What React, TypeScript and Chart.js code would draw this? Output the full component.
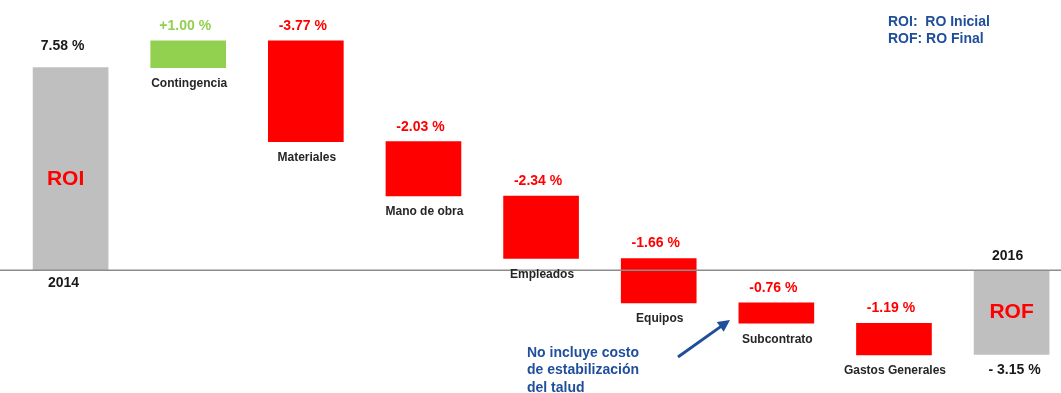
import React, { useEffect, useRef } from "react";
import { Chart, registerables } from "chart.js";

Chart.register(...registerables);

const categories = ["ROI", "Contingencia", "Materiales", "Mano de obra", "Empleados", "Equipos", "Subcontrato", "Gastos Generales", "ROF"];
const changes = [7.58, 1.0, -3.77, -2.03, -2.34, -1.66, -0.76, -1.19, -3.15];
const kinds = ["total", "up", "down", "down", "down", "down", "down", "down", "total"];
const valueLabels = ["7.58 %", "+1.00 %", "-3.77 %", "-2.03 %", "-2.34 %", "-1.66 %", "-0.76 %", "-1.19 %", "- 3.15 %"];
const yearLabels = ["2014", "2016"];
const legendLines = ["ROI:  RO Inicial", "ROF: RO Final"];
const noteLines = ["No incluye costo", "de estabilización", "del talud"];

const colors: Record<string, string> = { total: "#BFBFBF", up: "#92D050", down: "#FF0000" };
const labelColors: Record<string, string> = { total: "#1a1a1a", up: "#92D050", down: "#FF0000" };

function buildRanges() {
  let running = 0;
  return changes.map((v, i) => {
    if (kinds[i] === "total") {
      running = v;
      return { x: i, y: [0, v] };
    }
    const start = running;
    running = running + v;
    return { x: i, y: [start, running] };
  });
}

const FONT = "'Liberation Sans', Arial, sans-serif";

const labelPlugin = {
  id: "wfLabels",
  afterDatasetsDraw(chart: any) {
    const ctx = chart.ctx;
    const xs = chart.scales.x;
    const ys = chart.scales.y;
    const ranges = buildRanges();
    const zeroY = ys.getPixelForValue(0);
    ctx.save();
    // baseline
    ctx.strokeStyle = "#8c8c8c";
    ctx.lineWidth = 1.5;
    ctx.beginPath();
    ctx.moveTo(0, zeroY);
    ctx.lineTo(chart.width, zeroY);
    ctx.stroke();

    ctx.textAlign = "center";
    ctx.textBaseline = "middle";
    ranges.forEach((r, i) => {
      const cx = xs.getPixelForValue(r.x);
      const a = ys.getPixelForValue(r.y[0]);
      const b = ys.getPixelForValue(r.y[1]);
      const top = Math.min(a, b);
      const bottom = Math.max(a, b);
      if (kinds[i] === "total") {
        const isFirst = i === 0;
        ctx.fillStyle = "#FF0000";
        ctx.font = `bold 21px ${FONT}`;
        ctx.fillText(categories[i], cx - (isFirst ? 5 : 0), top + (bottom - top) * (isFirst ? 0.55 : 0.5));
        ctx.fillStyle = "#1a1a1a";
        ctx.font = `bold 14px ${FONT}`;
        if (isFirst) {
          ctx.fillText(valueLabels[i], cx - 8, top - 21);
          ctx.fillText(yearLabels[0], cx - 7, bottom + 13);
        } else {
          ctx.fillText(yearLabels[1], cx - 4, top - 14);
          ctx.fillText(valueLabels[i], cx + 3, bottom + 16);
        }
      } else {
        ctx.fillStyle = labelColors[kinds[i]];
        ctx.font = `bold 14px ${FONT}`;
        ctx.fillText(valueLabels[i], cx - 3, top - 15);
        ctx.fillStyle = "#262626";
        ctx.font = `bold 12px ${FONT}`;
        ctx.fillText(categories[i], cx + 1, bottom + 16);
      }
    });

    // legend text
    ctx.textAlign = "left";
    ctx.fillStyle = "#1F4E9A";
    ctx.font = `bold 14px ${FONT}`;
    legendLines.forEach((t, k) => ctx.fillText(t, 888, 22 + k * 17));

    // note
    noteLines.forEach((t, k) => ctx.fillText(t, 527, 353 + k * 17.5));

    // arrow
    const x1 = 678, y1 = 357, x2 = 730, y2 = 320;
    ctx.strokeStyle = "#1F4E9A";
    ctx.lineWidth = 3;
    ctx.beginPath();
    ctx.moveTo(x1, y1);
    const ang = Math.atan2(y2 - y1, x2 - x1);
    const hx = x2 - 8 * Math.cos(ang);
    const hy = y2 - 8 * Math.sin(ang);
    ctx.lineTo(hx, hy);
    ctx.stroke();
    ctx.fillStyle = "#1F4E9A";
    ctx.beginPath();
    ctx.moveTo(x2, y2);
    ctx.lineTo(x2 - 12 * Math.cos(ang) + 6 * Math.sin(ang), y2 - 12 * Math.sin(ang) - 6 * Math.cos(ang));
    ctx.lineTo(x2 - 12 * Math.cos(ang) - 6 * Math.sin(ang), y2 - 12 * Math.sin(ang) + 6 * Math.cos(ang));
    ctx.closePath();
    ctx.fill();
    ctx.restore();
  },
};

export default function App() {
  const ref = useRef<HTMLCanvasElement | null>(null);
  useEffect(() => {
    if (!ref.current) return;
    const ranges = buildRanges();
    const chart = new Chart(ref.current, {
      type: "bar",
      data: {
        datasets: [
          {
            data: ranges as any,
            backgroundColor: kinds.map((k) => colors[k]),
            borderWidth: 0,
            borderSkipped: false,
            barThickness: 75,
          },
        ],
      },
      options: {
        animation: false,
        responsive: false,
        maintainAspectRatio: false,
        layout: { padding: 0 },
        plugins: { legend: { display: false }, tooltip: { enabled: false } },
        scales: {
          x: { type: "linear", min: -0.6, max: 8.42, display: false, offset: false, grid: { offset: false } },
          y: { type: "linear", min: -4.59, max: 10.11, display: false },
        },
      },
      plugins: [labelPlugin],
    });
    return () => chart.destroy();
  }, []);
  return (
    <div style={{ position: "fixed", left: 0, top: 0, width: 1061, height: 393, background: "#fff" }}>
      <canvas ref={ref} width={1061} height={393} style={{ display: "block" }} />
    </div>
  );
}
